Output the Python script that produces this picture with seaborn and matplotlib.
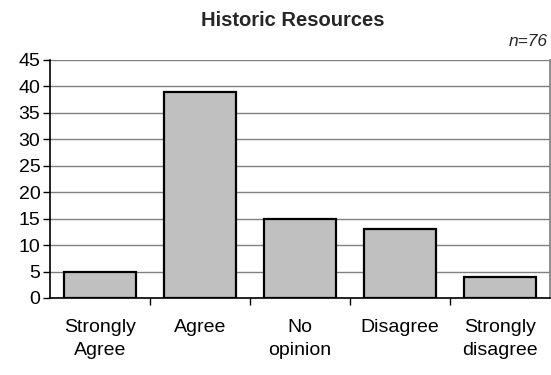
import pandas as pd
import matplotlib.pyplot as plt
import seaborn as sns

categories = ["Strongly\nAgree", "Agree", "No\nopinion", "Disagree", "Strongly\ndisagree"]
counts = [5, 39, 15, 13, 4]
y_ticks = [0, 5, 10, 15, 20, 25, 30, 35, 40, 45]

df = pd.DataFrame({"response": categories, "count": counts})

sns.set_theme(style="white")
plt.rcParams["font.family"] = ["Liberation Sans", "DejaVu Sans"]

fig = plt.figure(figsize=(5.51, 3.75), dpi=100)
ax = fig.add_axes([50 / 551, 77 / 375, 500 / 551, 238 / 375])

sns.barplot(x="response", y="count", data=df, color="#c0c0c0", width=0.72,
            edgecolor="black", linewidth=1.6, saturation=1, ax=ax)

ax.set_ylim(0, 45)
ax.set_xlim(-0.5, 4.5)
ax.set_yticks(y_ticks)
ax.yaxis.grid(True, color="#808080", linewidth=1)
ax.set_axisbelow(True)
ax.set_xlabel("")
ax.set_ylabel("")

for side in ["left", "bottom"]:
    ax.spines[side].set_color("black")
    ax.spines[side].set_linewidth(1.2)
ax.spines["top"].set_visible(False)
ax.spines["right"].set_color("#808080")

ax.tick_params(axis="y", which="major", left=True, length=5, width=1, color="black",
               labelsize=14, pad=2, labelcolor="black")
ax.tick_params(axis="x", which="major", bottom=False, labelsize=14, pad=9,
               labelcolor="black")
ax.set_xticks([0.5, 1.5, 2.5, 3.5], minor=True)
ax.tick_params(axis="x", which="minor", bottom=True, length=5, width=1, color="black")
for lbl in ax.get_xticklabels():
    lbl.set_linespacing(1.45)

fig.text(293 / 551, 1 - 20 / 375, "Historic Resources", ha="center", va="center",
         fontsize=14.5, fontweight="bold")
fig.text(548 / 551, 1 - 42 / 375, "n=76", ha="right", va="center",
         fontsize=12.5, fontstyle="italic")

fig.savefig("out.png", dpi=100)
